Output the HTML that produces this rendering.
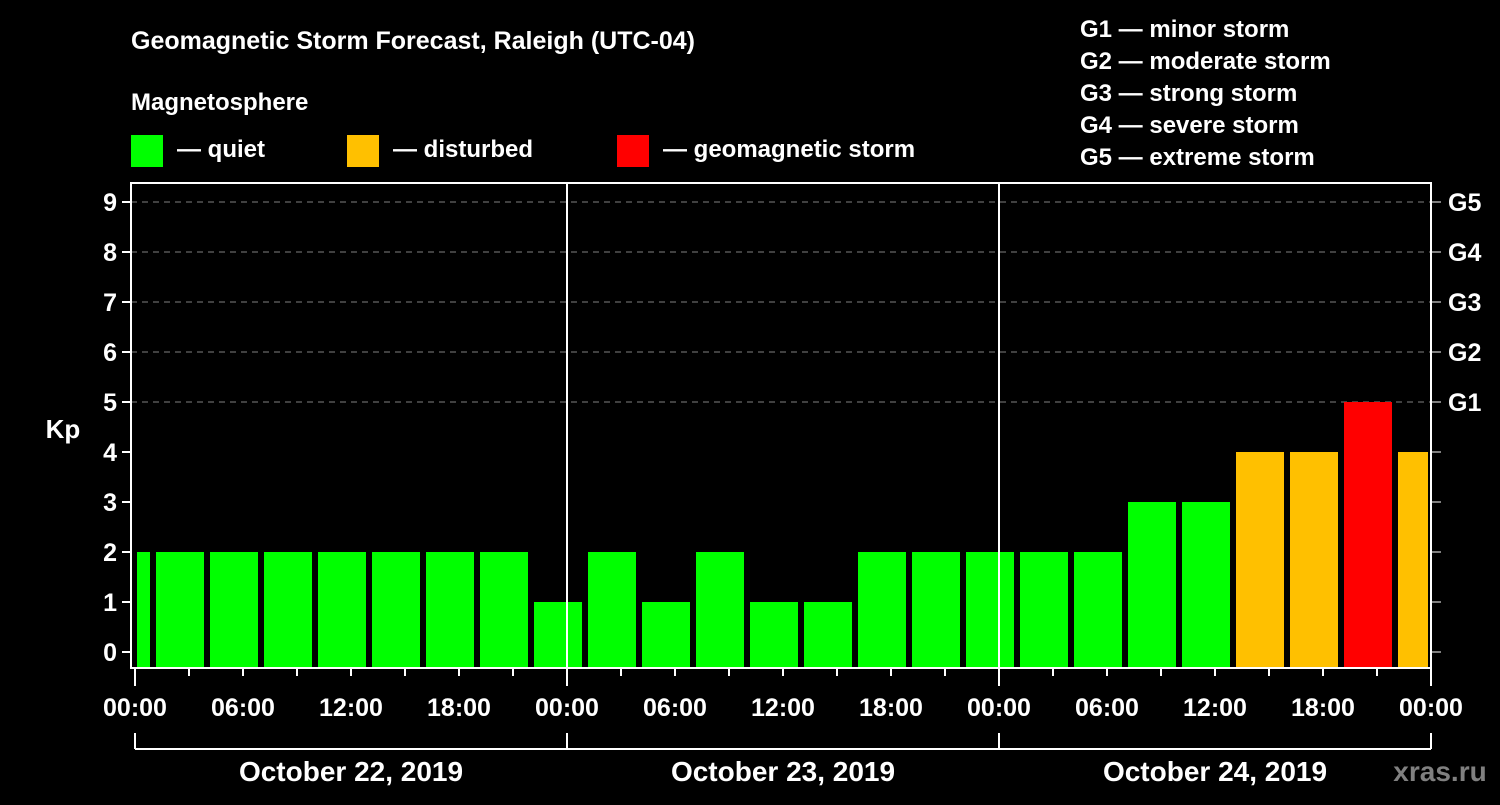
<!DOCTYPE html>
<html><head><meta charset="utf-8"><style>
html,body{margin:0;padding:0;background:#000;}
svg text{font-family:"Liberation Sans",Arial,sans-serif;font-weight:bold;fill:#fff;}
</style></head><body>
<svg id="chart" width="1500" height="800" xmlns="http://www.w3.org/2000/svg">
<rect width="1500" height="800" fill="#000"/>
<text x="131" y="49" font-size="25">Geomagnetic Storm Forecast, Raleigh (UTC-04)</text>
<text x="131" y="110" font-size="24">Magnetosphere</text>
<g><rect x="131" y="135" width="32" height="32" fill="#00ff00"/><text x="177" y="157" font-size="24">— quiet</text></g>
<g><rect x="347" y="135" width="32" height="32" fill="#ffc000"/><text x="393" y="157" font-size="24">— disturbed</text></g>
<g><rect x="617" y="135" width="32" height="32" fill="#ff0000"/><text x="663" y="157" font-size="24">— geomagnetic storm</text></g>
<g font-size="24">
<text x="1080" y="37">G1 — minor storm</text>
<text x="1080" y="69">G2 — moderate storm</text>
<text x="1080" y="101">G3 — strong storm</text>
<text x="1080" y="133">G4 — severe storm</text>
<text x="1080" y="165">G5 — extreme storm</text>
</g>
<text x="63" y="438" font-size="26" text-anchor="middle">Kp</text>
<g id="grid"></g><g id="bars"></g><g id="axes"></g>
<text x="1440" y="781" font-size="28" text-anchor="middle" style="fill:#808080">xras.ru</text>
</svg>
<script>
const kpValues = [2, 2,2,2,2,2,2,2, 1,2,1,2,1,1,2,2, 2,2,2,3,3,4,4,5, 4];
const yTicks = [0,1,2,3,4,5,6,7,8,9];
const gLabels = ["G1","G2","G3","G4","G5"];
const gLevels = [5,6,7,8,9];
const hourLabels = ["00:00","06:00","12:00","18:00","00:00","06:00","12:00","18:00","00:00","06:00","12:00","18:00","00:00"];
const dayLabels = ["October 22, 2019","October 23, 2019","October 24, 2019"];
const startHour = -2; // first block starts 2h before 00:00 local (UTC-4)

const NS="http://www.w3.org/2000/svg";
const L=131,R=1431,T=183,B=668,X0=135,PXH=18;
const y=v=>652-50*v;
const x=h=>X0+h*PXH;
function mk(tag,attrs,parent){const e=document.createElementNS(NS,tag);for(const k in attrs)e.setAttribute(k,attrs[k]);document.getElementById(parent).appendChild(e);return e;}

gLevels.forEach((lv,i)=>{
 const g=mk('line',{x1:L,x2:R,y1:y(lv),y2:y(lv),stroke:'#808080','stroke-dasharray':'6,5','stroke-width':1},'grid');
 
 
 const t=mk('text',{x:1448,y:y(lv)+9,'font-size':25},'axes');t.textContent=gLabels[i];
 
 
});
kpValues.forEach((v,i)=>{
 const h0=Math.max(0,startHour+3*i), h1=Math.min(72,startHour+3*i+3);
 const x0=x(h0)+(h0===0?2:3), x1=x(h1)-3;
 const c=v>=5?'#ff0000':(v>=4?'#ffc000':'#00ff00');
 const r=mk('rect',{x:x0,y:y(v),width:x1-x0,height:B-y(v),fill:c},'bars');
 
 
});
yTicks.forEach(v=>{
 mk('line',{x1:122,x2:L,y1:y(v),y2:y(v),stroke:'#fff','stroke-width':2},'axes');
 mk('line',{x1:R,x2:1441,y1:y(v),y2:y(v),stroke:'#fff','stroke-width':1},'axes');
 const t=mk('text',{x:117,y:y(v)+9,'font-size':25,'text-anchor':'end'},'axes');t.textContent=v;
 
 
});
const fr=mk('rect',{x:L,y:T,width:R-L,height:B-T,fill:'none',stroke:'#fff','stroke-width':2},'axes');


[1,2].forEach(d=>mk('line',{x1:x(24*d),x2:x(24*d),y1:T,y2:B,stroke:'#fff','stroke-width':2},'axes'));
for(let h=0;h<=72;h+=3){const long=h%24===0;mk('line',{x1:x(h),x2:x(h),y1:B,y2:long?686:676,stroke:'#fff','stroke-width':2},'axes');}
hourLabels.forEach((s,i)=>{const t=mk('text',{x:x(6*i),y:716,'font-size':25,'text-anchor':'middle'},'axes');t.textContent=s;
 
 });
mk('line',{x1:x(0),x2:x(72),y1:749,y2:749,stroke:'#fff','stroke-width':2},'axes');
for(let d=0;d<=3;d++)mk('line',{x1:x(24*d),x2:x(24*d),y1:733,y2:749,stroke:'#fff','stroke-width':2},'axes');
dayLabels.forEach((s,i)=>{const t=mk('text',{x:x(24*i+12),y:781,'font-size':28,'text-anchor':'middle'},'axes');t.textContent=s;
 
 });
</script>
</body></html>
